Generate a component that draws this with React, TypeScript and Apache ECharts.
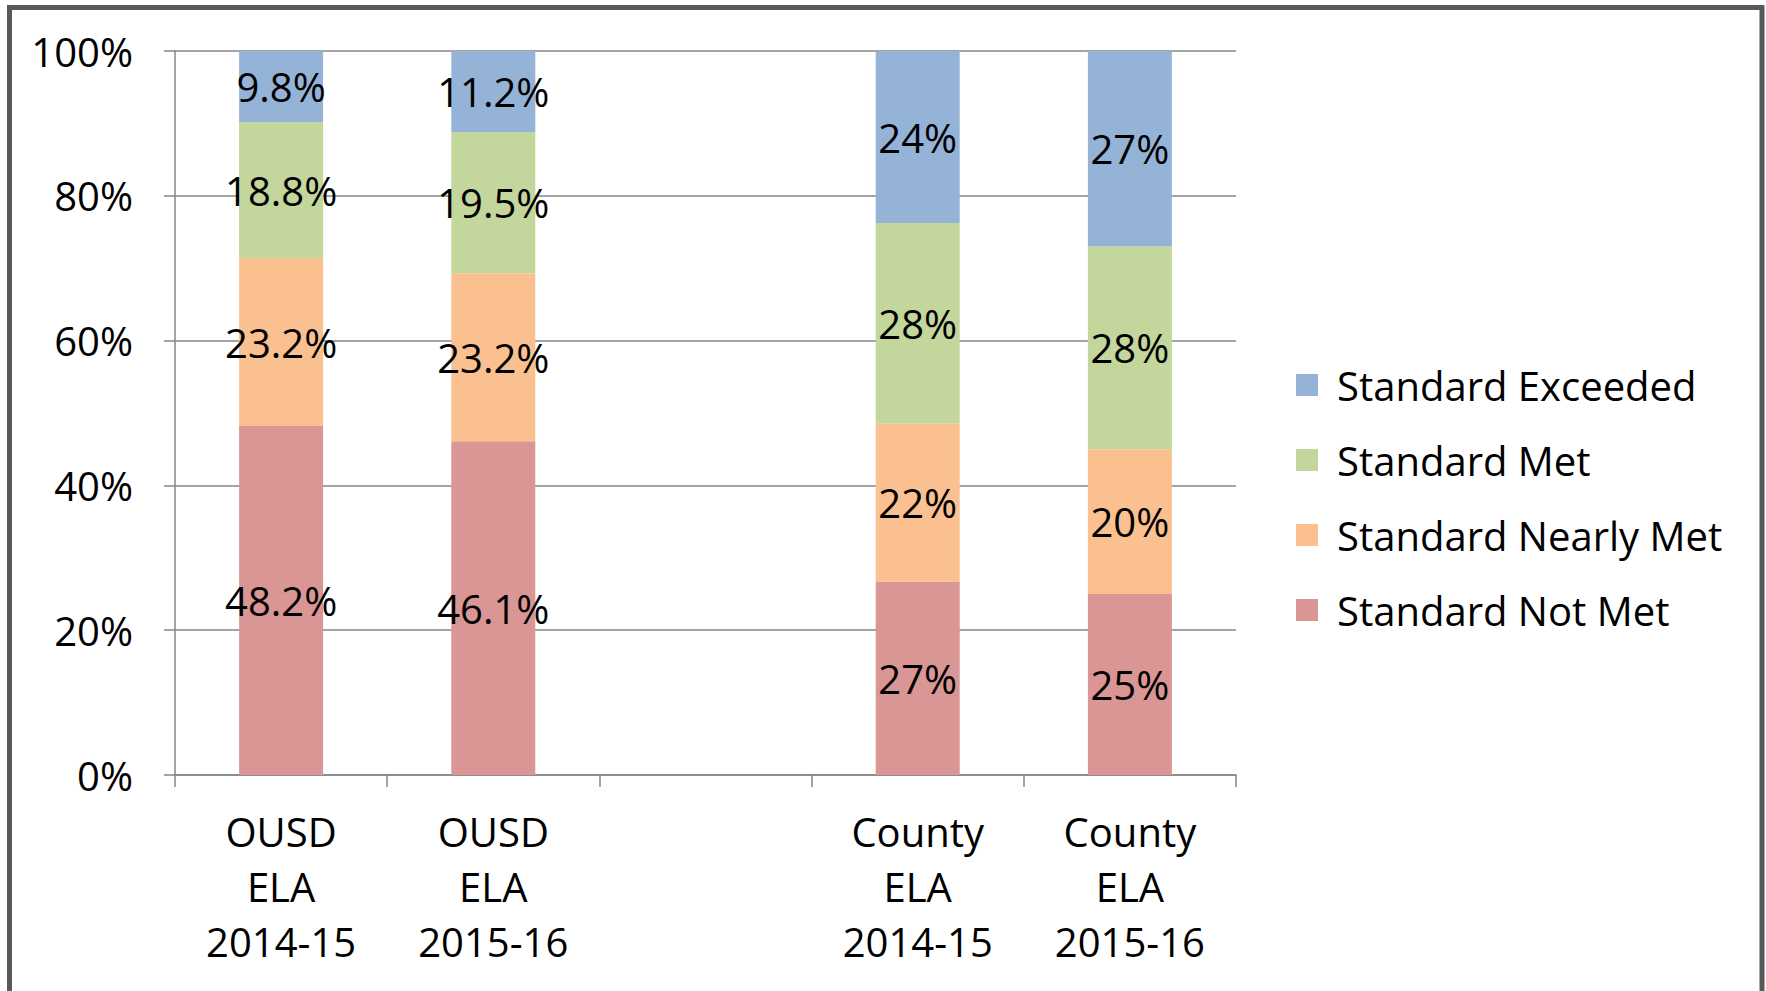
import React, { useEffect, useRef } from "react";
import * as echarts from "echarts";

const categories = [
  "OUSD\nELA\n2014-15",
  "OUSD\nELA\n2015-16",
  "",
  "County\nELA\n2014-15",
  "County\nELA\n2015-16",
];
const seriesNames = [
  "Standard Not Met",
  "Standard Nearly Met",
  "Standard Met",
  "Standard Exceeded",
];
const notMet = [48.2, 46.1, null, 27, 25];
const nearlyMet = [23.2, 23.2, null, 22, 20];
const met = [18.8, 19.5, null, 28, 28];
const exceeded = [9.8, 11.2, null, 24, 27];
const yTicks = [0, 20, 40, 60, 80, 100];
const colors = ["#D99694", "#FAC090", "#C3D69B", "#95B3D7"];

const FONT = "Open Sans";

export default function App() {
  const ref = useRef<HTMLDivElement>(null);
  useEffect(() => {
    if (!ref.current) return;
    const chart = echarts.init(ref.current, null, { renderer: "svg" });
    const raw = [notMet, nearlyMet, met, exceeded];
    const totals = categories.map((_, i) =>
      raw.reduce((s, arr) => s + (arr[i] == null ? 0 : (arr[i] as number)), 0)
    );
    const series = raw.map((arr, si) => ({
      name: seriesNames[si],
      type: "bar",
      stack: "total",
      barWidth: 84,
      itemStyle: { color: colors[si] },
      label: {
        show: true,
        position: "inside",
        color: "#000",
        fontFamily: FONT,
        fontSize: 40,
        formatter: (p: any) => (arr[p.dataIndex] == null ? "" : `${arr[p.dataIndex]}%`),
      },
      data: arr.map((v, i) => (v == null ? null : (v / totals[i]) * 100)),
    }));
    chart.setOption({
      animation: false,
      backgroundColor: "#fff",
      textStyle: { fontFamily: FONT },
      grid: { left: 175, right: 530, top: 51, bottom: 216, containLabel: false },
      legend: {
        orient: "vertical",
        left: 1291,
        top: 360,
        itemWidth: 22,
        itemHeight: 22,
        itemGap: 35,
        icon: "rect",
        data: [...seriesNames].reverse(),
        textStyle: { fontFamily: FONT, fontSize: 40, color: "#000", lineHeight: 40, padding: [0, 0, 0, 14] },
      },
      xAxis: {
        type: "category",
        data: categories,
        axisLine: { lineStyle: { color: "#868686", width: 1.5 } },
        axisTick: { show: true, length: 12, lineStyle: { color: "#868686", width: 1.5 } },
        axisLabel: {
          color: "#000",
          fontFamily: FONT,
          fontSize: 40,
          lineHeight: 55,
          margin: 29,
          interval: 0,
        },
      },
      yAxis: {
        type: "value",
        min: yTicks[0],
        max: yTicks[yTicks.length - 1],
        interval: 20,
        axisLine: { show: true, lineStyle: { color: "#868686", width: 1.5 } },
        axisTick: { show: true, length: 11, lineStyle: { color: "#868686", width: 1.5 } },
        splitLine: { lineStyle: { color: "#868686", width: 1.5 } },
        axisLabel: {
          color: "#000",
          fontFamily: FONT,
          fontSize: 40,
          margin: 42,
          formatter: "{value}%",
        },
      },
      graphic: [
        {
          type: "rect",
          shape: { x: 9.5, y: 7.5, width: 1752.5, height: 1000 },
          style: { fill: "none", stroke: "#595959", lineWidth: 5 },
          silent: true,
        },
      ],
      series,
    });
    return () => chart.dispose();
  }, []);
  return (
    <div
      ref={ref}
      style={{ position: "fixed", left: 0, top: 0, width: 1766, height: 991 }}
    />
  );
}
